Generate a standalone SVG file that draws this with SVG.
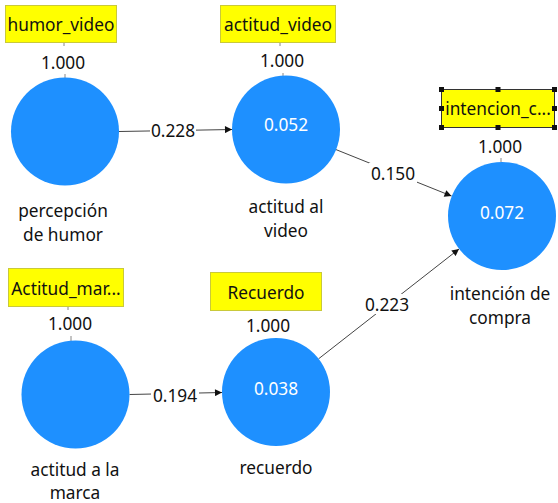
<svg xmlns="http://www.w3.org/2000/svg" width="558" height="503" viewBox="0 0 558 503">
<defs>
<marker id="ah" viewBox="0 0 10 10" refX="10" refY="5" markerWidth="9" markerHeight="7" markerUnits="userSpaceOnUse" orient="auto">
<path d="M0,0 L10,5 L0,10 z" fill="#111"/>
</marker>
<style>
text{font-family:"Noto Sans","Open Sans","DejaVu Sans",sans-serif;font-size:17.3px;fill:#111;text-anchor:middle;dominant-baseline:central}
.lv{fill:#fff}
.lbl{fill:#ffff00;stroke:#c9c93a;stroke-width:1}
.c{fill:#1e90ff}
.tick{stroke:#888;stroke-width:1}
.e{stroke:#444;stroke-width:1;fill:none}
.bg{fill:#fff}
.h{fill:#111}
</style>
</defs>
<rect width="558" height="503" fill="#fff"/>
<g id="connectors">
<line class="e" x1="119" y1="131.5" x2="232" y2="129.5" marker-end="url(#ah)"/>
<rect class="bg" x="150" y="120" width="46" height="20"/>
<text x="173" y="130">0.228</text>
<line class="e" x1="336" y1="149.6" x2="451.5" y2="196" marker-end="url(#ah)"/>
<rect class="bg" x="369" y="163" width="48" height="20"/>
<text x="393" y="173">0.150</text>
<line class="e" x1="129.5" y1="394.5" x2="222" y2="392.5" marker-end="url(#ah)"/>
<rect class="bg" x="151" y="384" width="48" height="20"/>
<text x="175" y="395">0.194</text>
<line class="e" x1="318.6" y1="358.8" x2="459" y2="249" marker-end="url(#ah)"/>
<rect class="bg" x="363" y="294" width="48" height="20"/>
<text x="387" y="304">0.223</text>
</g>
<g id="humor_video">
<rect class="lbl" x="5.5" y="5.5" width="111" height="37"/>
<text x="61" y="24">humor_video</text>
<line class="tick" x1="64" y1="43" x2="64" y2="46"/>
<text x="63" y="62">1.000</text>
<line class="tick" x1="65" y1="74" x2="65" y2="78"/>
<circle class="c" cx="65" cy="131.5" r="54"/>
<text x="63" y="210">percepción</text>
<text x="63" y="234">de humor</text>
</g>
<g id="actitud_video">
<rect class="lbl" x="220.5" y="5.5" width="115" height="37"/>
<text x="278" y="24">actitud_video</text>
<line class="tick" x1="280" y1="43" x2="280" y2="46"/>
<text x="282" y="60">1.000</text>
<line class="tick" x1="283" y1="73" x2="283" y2="76"/>
<circle class="c" cx="286" cy="129.5" r="54"/>
<text class="lv" x="286" y="124">0.052</text>
<text x="286" y="206">actitud al</text>
<text x="286" y="230">video</text>
</g>
<g id="intencion_compra">
<rect x="441.5" y="89.5" width="113" height="38" fill="#ffff00" stroke="#333" stroke-width="1"/>
<text x="498" y="108">intencion_c...</text>
<rect class="h" x="439" y="87" width="5" height="5"/>
<rect class="h" x="495.5" y="87" width="5" height="5"/>
<rect class="h" x="552" y="87" width="5" height="5"/>
<rect class="h" x="439" y="106" width="5" height="5"/>
<rect class="h" x="552" y="106" width="5" height="5"/>
<rect class="h" x="439" y="125" width="5" height="5"/>
<rect class="h" x="495.5" y="125" width="5" height="5"/>
<rect class="h" x="552" y="125" width="5" height="5"/>
<text x="500" y="146">1.000</text>
<line class="tick" x1="501" y1="158" x2="501" y2="162"/>
<circle class="c" cx="502" cy="216" r="54"/>
<text class="lv" x="502" y="212">0.072</text>
<text x="500" y="293">intención de</text>
<text x="500" y="317">compra</text>
</g>
<g id="actitud_marca">
<rect class="lbl" x="8.5" y="268.5" width="115" height="38"/>
<text x="66" y="288">Actitud_mar...</text>
<line class="tick" x1="68" y1="307" x2="68" y2="310"/>
<text x="70" y="323">1.000</text>
<line class="tick" x1="71" y1="336" x2="71" y2="341"/>
<circle class="c" cx="75.5" cy="394.5" r="54"/>
<text x="75" y="469">actitud a la</text>
<text x="75" y="492">marca</text>
</g>
<g id="recuerdo">
<rect class="lbl" x="210.5" y="272.5" width="111" height="38"/>
<text x="266" y="292">Recuerdo</text>
<text x="268" y="325">1.000</text>
<circle class="c" cx="276" cy="392" r="54"/>
<text class="lv" x="276" y="388">0.038</text>
<text x="276" y="467">recuerdo</text>
</g>
</svg>
